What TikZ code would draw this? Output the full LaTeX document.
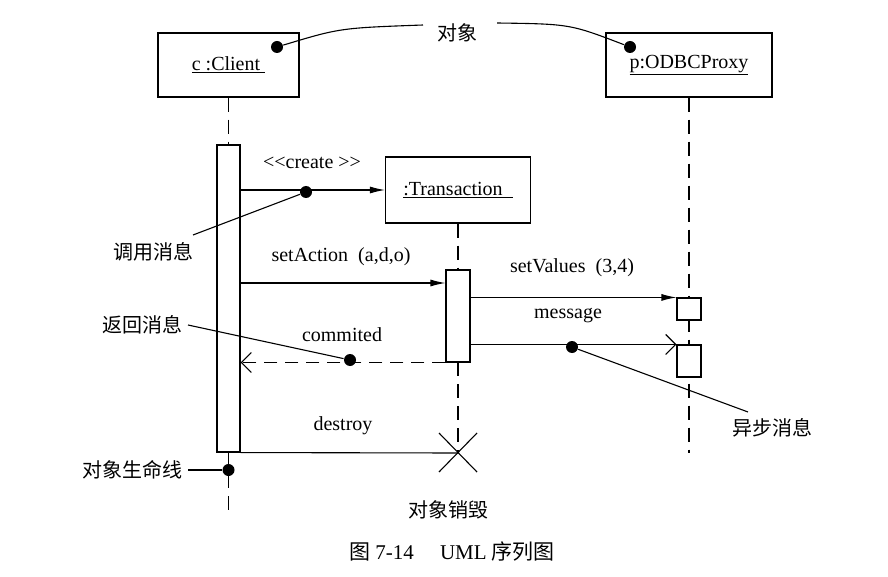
\documentclass[tikz,border=0pt]{standalone}
\usepackage{fontspec}
\setmainfont{Liberation Serif}
\newfontfamily\cjk{Noto Sans CJK SC}
\usetikzlibrary{arrows.meta,calc}
\begin{document}
\begin{tikzpicture}[x=1pt,y=-1pt,line width=1.1pt,
  obj/.style={draw,fill=white,inner sep=0pt,minimum height=64pt,font=\fontsize{20}{24}\selectfont},
  actbar/.style={draw,fill=white,inner sep=0pt,minimum width=23pt},
  life/.style={dash pattern=on 14pt off 8pt},
  retline/.style={dash pattern=on 13pt off 8pt},
  sync/.style={-{Latex[length=15pt,width=7pt]}},
  async/.style={-{Straight Barb[length=10pt,width=20pt]}},
  dot/.style={circle,fill,inner sep=0pt,minimum size=12pt},
  lbl/.style={font=\fontsize{20}{24}\selectfont,inner sep=0pt},
  cn/.style={font=\cjk\fontsize{20}{24}\selectfont,inner sep=0pt}]
\useasboundingbox (0,0) rectangle (888,577);

% objects
\node[obj,minimum width=141pt] (client) at (228.5,65) {\underline{c :Client\ }};
\node[obj,minimum width=166pt] (odbc) at (689,65) {\underline{p:ODBCProxy}};
\node[obj,minimum width=145pt,minimum height=66pt] (trans) at (458,190) {\underline{:Transaction\hspace{10pt}}};

% coordinates
\coordinate (cend) at (228.5,510);
\coordinate (xd) at (458,453);
\coordinate (oend) at (689,453);
\coordinate (m1) at (0,283);

% lifelines
\draw[life] (client.south) -- (228.5,145);
\draw[life] (228.5,452) -- (cend);
\draw[life] (trans.south) -- (458,270);
\draw[life] (458,362) -- (xd);
\draw[life] (odbc.south) -- (oend);

% activation bars
\node[actbar,minimum height=307pt] (cbar) at (228.5,298.5) {};
\node[actbar,minimum width=24pt,minimum height=92pt] (tbar) at (458,316) {};
\node[actbar,minimum width=24pt,minimum height=22pt] (v1) at (689,309) {};
\node[actbar,minimum width=24pt,minimum height=32pt] (v2) at (689,361) {};

% messages
\draw[sync] (cbar.east |- trans.west) -- (trans.west);
\draw[sync] (cbar.east |- m1) -- (tbar.west |- m1);
\draw[sync] (tbar.east |- v1.north west) -- (v1.north west);
\draw[async] (tbar.east |- v2.north west) -- (v2.north west);
\draw[retline,async] (tbar.south west) -- (cbar.east |- tbar.south);
\draw (cbar.south east) -- (xd);
\draw (xd) ++(-19,-20) -- ++(38,39);
\draw (xd) ++(19,-20) -- ++(-38,39);

% message labels
\node[lbl] (lcreate) at (312,163) {<\kern0pt<create \kern0pt>\kern0pt>};
\node[lbl] (lset) at (341,257) {setAction\ \ (a,d,o)};
\node[lbl] (lval) at (572,268) {setValues\ \ (3,4)};
\node[lbl] (lmsg) at (568,316) {message};
\node[lbl] (lcom) at (342,335) {commited};
\node[lbl] (ldes) at (343,426) {destroy};

% annotations
\node[dot] (d1) at (277,47) {};
\node[dot] (d2) at (630,47) {};
\node[cn] (tobj) at (457,33) {对象};
\coordinate (a1) at (423,25);
\coordinate (a2) at (497,23);
\draw (d1) .. controls (340,28) .. (a1);
\draw (a2) .. controls (570,24) .. (d2);

\node[dot] (d3) at (306,192) {};
\coordinate (a3) at (193,235);
\draw (d3) -- (a3);
\node[cn] (tcall) at (153,252) {调用消息};

\node[dot] (d4) at (350,360) {};
\coordinate (a4) at (188,325);
\draw (d4) -- (a4);
\node[cn] (tret) at (142,325) {返回消息};

\node[dot] (d5) at (572,347) {};
\coordinate (a5) at (748,412);
\draw (d5) -- (a5);
\node[cn] (tasync) at (772,428) {异步消息};

\node[dot] (d6) at (228.5,470) {};
\coordinate (a6) at (188,470);
\draw (a6) -- (d6);
\node[cn] (tlife) at (132,470) {对象生命线};

\node[cn] (tdes) at (448,510) {对象销毁};

\node[font=\fontsize{21}{25}\selectfont,inner sep=0pt] (cap) at (452,552) {{\cjk 图} 7-14\quad\ UML {\cjk 序列图}};
\end{tikzpicture}
\end{document}
